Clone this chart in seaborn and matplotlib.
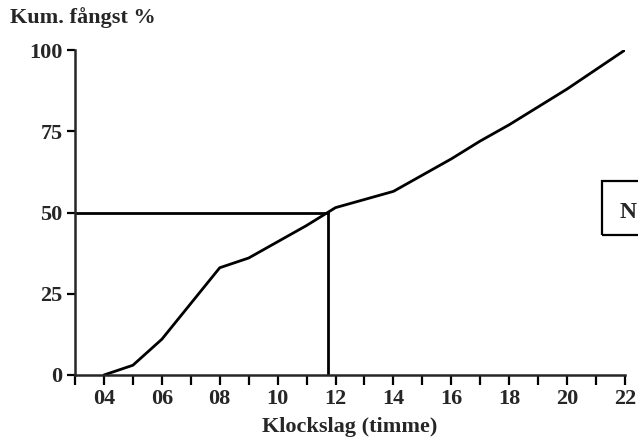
import matplotlib
matplotlib.use("Agg")
import matplotlib.pyplot as plt
import matplotlib.patches as mpatches
import seaborn as sns
import pandas as pd

hours = [4, 5, 6, 7, 8, 9, 10, 11, 12, 13, 14, 15, 16, 17, 18, 19, 20, 21, 22]
cum_catch = [0, 3, 11, 22, 33, 36, 41, 46, 51.5, 54, 56.5, 61.5, 66.5, 72, 77, 82.5, 88, 94, 100]
median_hour = 11.75
median_level = 50
y_ticks = [0, 25, 50, 75, 100]
x_major = [4, 6, 8, 10, 12, 14, 16, 18, 20, 22]
x_labels = ["04", "06", "08", "10", "12", "14", "16", "18", "20", "22"]

sns.set_style("ticks")
plt.rcParams['font.family'] = ['Liberation Serif', 'DejaVu Serif']
plt.rcParams['font.weight'] = 'bold'

df = pd.DataFrame({"hour": hours, "pct": cum_catch})

W, H = 638, 446
fig = plt.figure(figsize=(W / 100, H / 100), dpi=100)
ax = fig.add_axes([75 / W, 1 - 375 / H, (625 - 75) / W, (375 - 50) / H])

sns.lineplot(data=df, x="hour", y="pct", ax=ax, color="black", linewidth=2.0)
ax.plot([3, median_hour], [median_level, median_level], color="black", linewidth=2.0)
ax.plot([median_hour, median_hour], [0, median_level], color="black", linewidth=2.0)

ax.set_xlim(3, 22)
ax.set_ylim(0, 100)
ax.set_yticks(y_ticks)
ax.set_yticklabels([str(v) for v in y_ticks])
ax.set_xticks(x_major)
ax.set_xticklabels(x_labels)
ax.set_xticks([h for h in range(3, 23) if h not in x_major], minor=True)
ax.tick_params(axis="both", which="both", direction="out", width=1.6, color="black",
               labelsize=16, pad=3)
ax.tick_params(axis="x", which="both", length=7)
ax.tick_params(axis="y", which="major", length=6)
for lab in ax.get_xticklabels() + ax.get_yticklabels():
    lab.set_fontweight("bold")

sns.despine(ax=ax)
ax.spines["left"].set_linewidth(1.8)
ax.spines["bottom"].set_linewidth(1.8)

ax.set_xlabel("Klockslag (timme)", fontsize=16, fontweight="bold", labelpad=6)
ax.set_ylabel("")
fig.text(10 / W, 1 - 18 / H, "Kum. fångst %", fontsize=16, fontweight="bold",
         ha="left", va="center")

rect = mpatches.Rectangle((602 / W, 1 - 235 / H), 60 / W, 54 / H,
                          transform=fig.transFigure, fill=False,
                          edgecolor="black", linewidth=1.6)
fig.patches.append(rect)
fig.text(620 / W, 1 - 213 / H, "N", fontsize=17, fontweight="bold",
         ha="left", va="center")

fig.savefig("out.png", dpi=100)
